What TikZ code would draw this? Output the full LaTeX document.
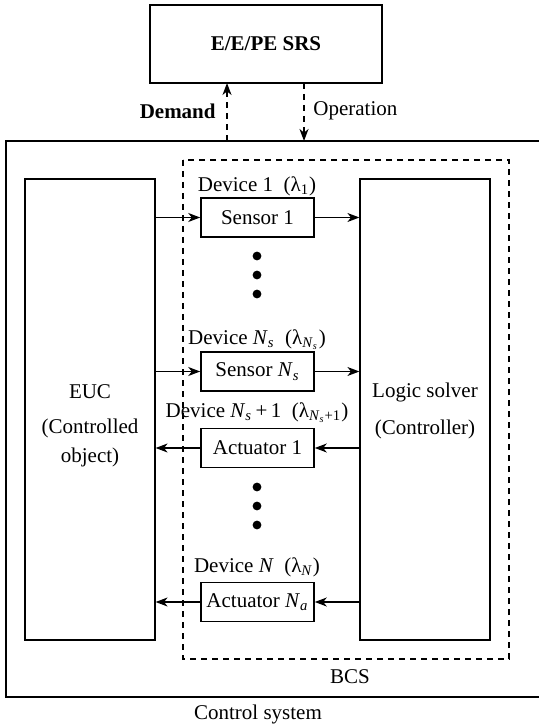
\documentclass[tikz,border=0pt]{standalone}
\usepackage{fontspec}
\setmainfont{Liberation Serif}
\newfontfamily\tnr{Liberation Serif}
\usetikzlibrary{arrows.meta}
\begin{document}
\begin{tikzpicture}[x=0.5pt,y=-0.5pt,
  font=\tnr\fontsize{10.5}{12.6}\selectfont,
  box/.style={draw,line width=0.8pt,inner sep=0pt,minimum width=56.5pt,minimum height=19.5pt},
  bigbox/.style={draw,line width=0.6pt,inner sep=0pt,minimum width=65pt,minimum height=230.5pt},
  arr/.style={line width=0.6pt,-{Stealth[length=6pt,width=4.5pt,inset=1.8pt]}},
  darr/.style={line width=0.7pt,dashed,dash pattern=on 3pt off 2.5pt,-{Stealth[length=6pt,width=4.5pt,inset=1.8pt]}},
  lbl/.style={inner sep=0pt},
  dot/.style={circle,fill=black,inner sep=0pt,minimum size=4.4pt}]
\useasboundingbox (0,0) rectangle (539,726);
% outer control system
\draw[line width=0.6pt] (548,697) -- (6,697) -- (6,141) -- (548,141);
% BCS dashed
\draw[line width=0.6pt,dash pattern=on 3pt off 2.5pt] (183,160) rectangle (509,659);
% SRS
\node[draw,line width=1.1pt,minimum width=116pt,minimum height=39pt,font=\tnr\fontsize{10.5}{12.6}\selectfont\bfseries] (srs) at (266,44) {E/E/PE SRS};
\coordinate (dtop) at (227,83);
\coordinate (dbot) at (227,141);
\coordinate (otop) at (304,83);
\coordinate (obot) at (304,141);
\draw[darr] (dbot) -- (dtop);
\draw[darr] (otop) -- (obot);
\node[lbl,anchor=east,font=\tnr\fontsize{10.5}{12.6}\selectfont\bfseries] (dem) at (216,111) {Demand};
\node[lbl,anchor=west] (op) at (313,111) {Operation};
% big boxes
\node[bigbox] (euc) at (90,409.5) {};
\node[bigbox] (logic) at (425,409.5) {};
\node[lbl] (euct1) at (90,392) {EUC};
\node[lbl,align=center] (euct2) at (90,443) {(Controlled\\[1.5pt]object)};
\node[lbl] (lt1) at (425,392) {Logic solver};
\node[lbl] (lt2) at (425,429) {(Controller)};
% devices
\node[box] (s1) at (257.5,217.5) {Sensor 1};
\node[box] (sn) at (257.5,371.5) {Sensor \textit{N}\textsubscript{\textit{s}}};
\node[box] (a1) at (257.5,448) {Actuator 1};
\node[box] (an) at (257.5,602) {Actuator \textit{N}\textsubscript{\textit{a}}};
\node[lbl] (d1) at (257,186) {Device 1\ \ (λ\textsubscript{1})};
\node[lbl] (dn) at (257,340) {Device \textit{N}\textsubscript{\textit{s}}\ \ (λ\textsubscript{\textit{N}\textsubscript{\textit{s}}})};
\node[lbl] (dn1) at (257,413) {Device \textit{N}\textsubscript{\textit{s}}\,+\,1\ \ (λ\textsubscript{\textit{N}\textsubscript{\textit{s}}+1})};
\node[lbl] (dN) at (257,567) {Device \textit{N}\ \ (λ\textsubscript{\textit{N}})};
% dots
\node[dot] (p1) at (257,256) {};
\node[dot] (p2) at (257,275) {};
\node[dot] (p3) at (257,294) {};
\node[dot] (q1) at (257,487) {};
\node[dot] (q2) at (257,506) {};
\node[dot] (q3) at (257,525) {};
% arrows
\draw[arr] (euc.east |- s1) -- (s1.west);
\draw[arr] (s1.east) -- (logic.west |- s1);
\draw[arr] (euc.east |- sn) -- (sn.west);
\draw[arr] (sn.east) -- (logic.west |- sn);
\draw[arr] (logic.west |- a1) -- (a1.east);
\draw[arr] (a1.west) -- (euc.east |- a1);
\draw[arr] (logic.west |- an) -- (an.east);
\draw[arr] (an.west) -- (euc.east |- an);
% labels
\node[lbl] (bcs) at (350,677) {BCS};
\node[lbl] (cs) at (258,714) {Control system};
\end{tikzpicture}
\end{document}
